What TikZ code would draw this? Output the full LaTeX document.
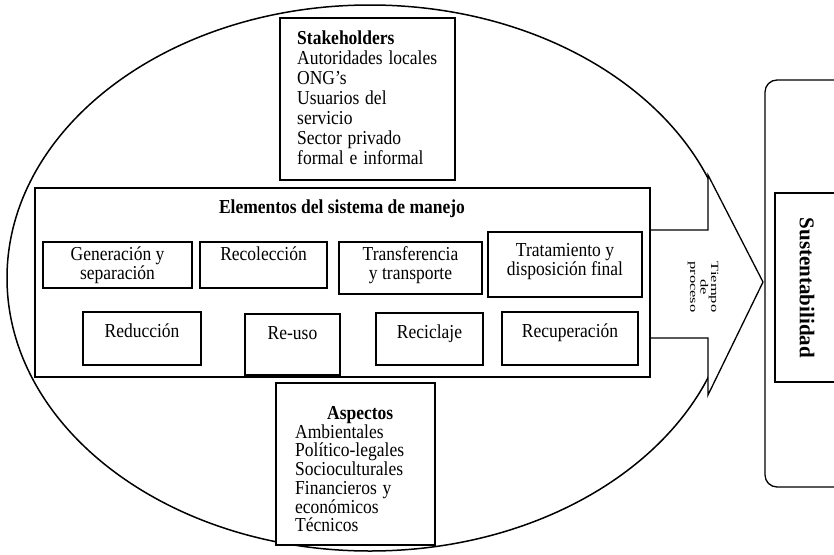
\documentclass[tikz,border=0pt]{standalone}
\usepackage{fontspec}
\setmainfont{Liberation Serif}
\usetikzlibrary{positioning}
\begin{document}
\begin{tikzpicture}[x=1pt,y=-1pt,
  cell/.style={draw, line width=1.3pt, fill=white, inner sep=0pt},
  celltext/.style={font=\fontsize{17.5}{15}\selectfont, align=center, inner sep=0pt, anchor=north, yscale=1.13},
  listtext/.style={font=\fontsize{17.5}{17.7}\selectfont, align=left, inner sep=0pt, anchor=north west, yscale=1.13},
  rot/.style={rotate=-90, inner sep=0pt, align=center},
]
\useasboundingbox (0,0) rectangle (834,554);
\clip (0,0) rectangle (834,554);

% big ellipse
\draw[line width=1.5pt] (370,278) ellipse [x radius=363, y radius=273];

% sustentabilidad
\draw[line width=1.3pt, rounded corners=12pt, fill=white] (765,80) rectangle (880,487);
\node[cell, minimum width=95pt, minimum height=189pt] (sust) at (822.5,287.5) {};
\node[rot, font=\bfseries\fontsize{21}{21}\selectfont] (sustt) at (807,288) {Sustentabilidad};

% arrow
\draw[line width=1.3pt, fill=white] (650,230) -- (708,230) -- (708,175) -- (763,282)
  -- (708,395) -- (708,338) -- (650,338);
\node[rot, font=\fontsize{11}{10.5}\selectfont] (tiempo) at (703,287)
  {\scalebox{1.5}[1]{Tiempo}\\\scalebox{1.5}[1]{de}\\\scalebox{1.5}[1]{proceso}};

% stakeholders
\node[cell, minimum width=175pt, minimum height=162pt] (stake) at (367.5,99) {};
\node[listtext, text width=160pt] (staket) at (297,31)
  {\textbf{Stakeholders}\\Autoridades locales\\ONG’s\\Usuarios del\\servicio\\Sector privado\\formal e informal};

% elementos
\node[cell, minimum width=615pt, minimum height=189pt] (elem) at (342.5,282.5) {};
\node[celltext, font=\bfseries\fontsize{17.5}{15}\selectfont] (elemt) at (342,199.5) {Elementos del sistema de manejo};

\node[cell, minimum width=149pt, minimum height=46pt] (gen) at (117.5,265) {};
\node[celltext, below=5pt of gen.north] (gent) {Generación y\\separación};
\node[cell, minimum width=127pt, minimum height=46pt] (rec) at (263.5,265) {};
\node[celltext, below=5pt of rec.north] (rect) {Recolección};
\node[cell, minimum width=143pt, minimum height=52pt] (tra) at (410.5,268) {};
\node[celltext, below=5pt of tra.north, font=\fontsize{17.5}{17}\selectfont] (trat) {Transferencia\\y transporte};
\node[cell, minimum width=154pt, minimum height=65pt] (tdf) at (565,264.5) {};
\node[celltext, below=12pt of tdf.north] (tdft) {Tratamiento y\\disposición final};

\node[cell, minimum width=118pt, minimum height=53pt] (red) at (142,338.5) {};
\node[celltext, below=12pt of red.north] (redt) {Reducción};
\node[cell, minimum width=95pt, minimum height=61pt] (reu) at (292.5,344.5) {};
\node[celltext, below=13pt of reu.north] (reut) {Re-uso};
\node[cell, minimum width=107pt, minimum height=52pt] (rcl) at (429.5,339) {};
\node[celltext, below=12pt of rcl.north] (rclt) {Reciclaje};
\node[cell, minimum width=136pt, minimum height=53pt] (rcp) at (570,338.5) {};
\node[celltext, below=12pt of rcp.north] (rcpt) {Recuperación};

% aspectos
\node[cell, minimum width=159pt, minimum height=162pt] (asp) at (355.5,464) {};
\node[listtext, text width=130pt, font=\fontsize{17.5}{16.6}\selectfont] (aspt) at (295,406)
  {\makebox[130pt][c]{\textbf{Aspectos}}\\Ambientales\\Político-legales\\Socioculturales\\Financieros y\\económicos\\Técnicos};
\end{tikzpicture}
\end{document}
